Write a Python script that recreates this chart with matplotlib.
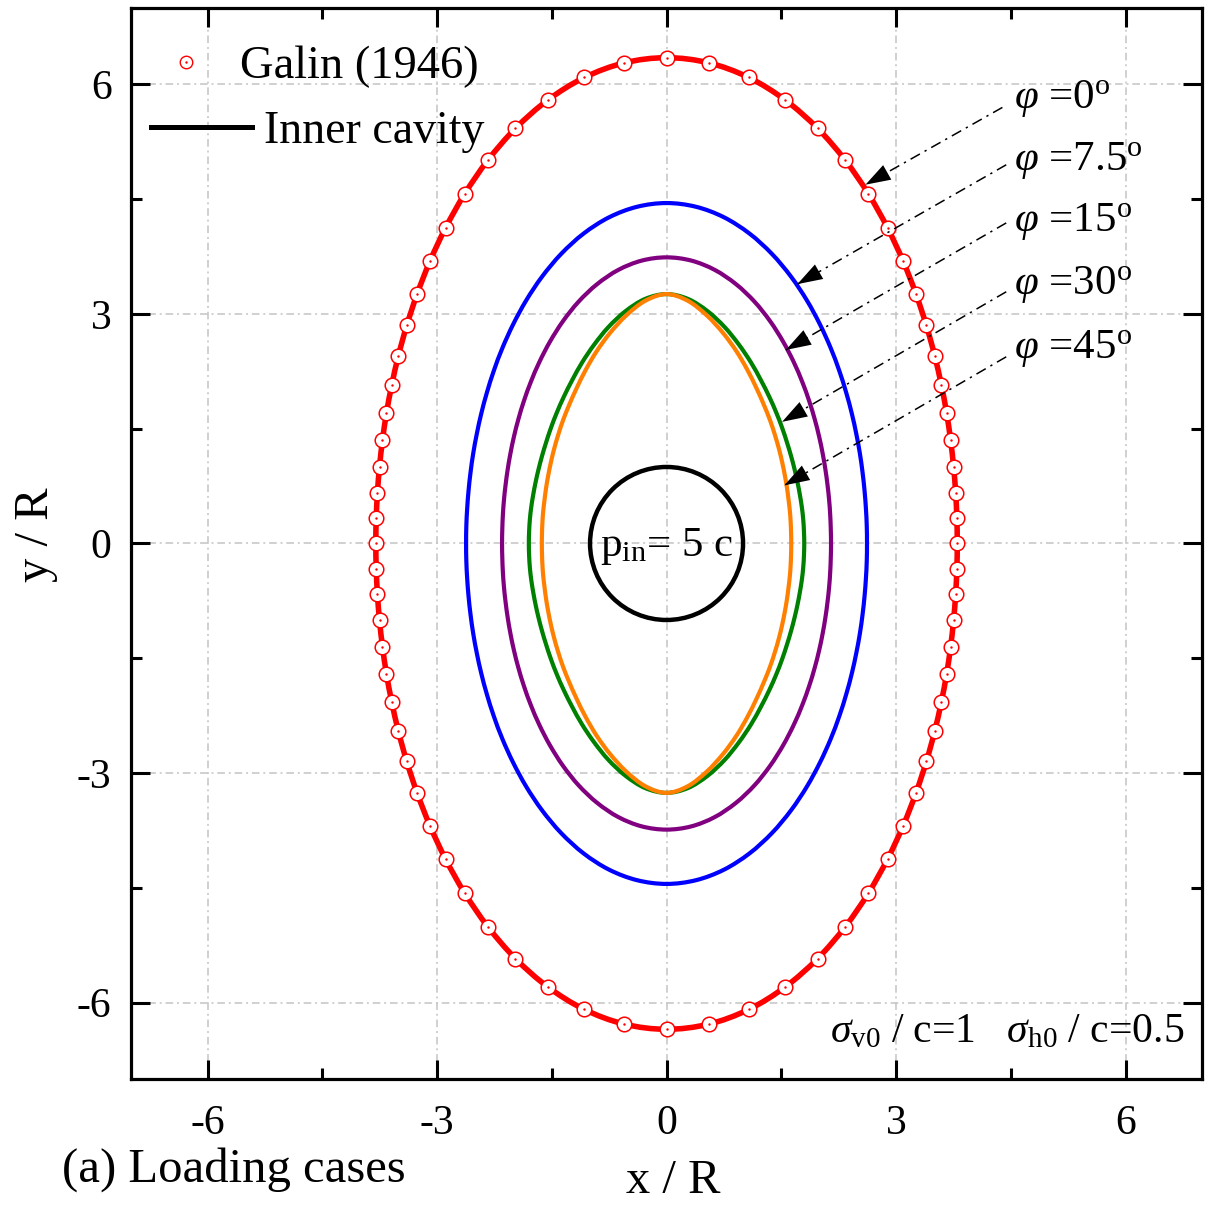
import numpy as np
import matplotlib
matplotlib.use('Agg')
import matplotlib.pyplot as plt
from matplotlib.ticker import MultipleLocator
from matplotlib.patches import Circle, PathPatch
from matplotlib.path import Path
from matplotlib.lines import Line2D
from matplotlib.legend_handler import HandlerTuple

plt.rcParams['font.family'] = ['Liberation Serif', 'DejaVu Serif']
plt.rcParams['mathtext.fontset'] = 'custom'
plt.rcParams['mathtext.rm'] = 'Liberation Serif'
plt.rcParams['mathtext.it'] = 'Liberation Serif:italic'
plt.rcParams['mathtext.bf'] = 'Liberation Serif:bold'
plt.rcParams['axes.unicode_minus'] = False

# polar angle (deg, from +x axis) of the read-off points, first quadrant
theta_q = np.arange(0, 91, 5)

# plastic zone boundary radii r/R (curves are symmetric)
r_phi0 = [3.800, 3.809, 3.837, 3.884, 3.951, 4.039, 4.147, 4.279, 4.433, 4.611,
          4.813, 5.036, 5.277, 5.527, 5.774, 6.000, 6.185, 6.307, 6.350]
r_phi7 = [2.620, 2.627, 2.646, 2.679, 2.726, 2.788, 2.864, 2.957, 3.066, 3.193,
          3.337, 3.496, 3.669, 3.849, 4.028, 4.193, 4.329, 4.418, 4.450]
r_phi15 = [2.150, 2.155, 2.172, 2.200, 2.239, 2.291, 2.356, 2.435, 2.528, 2.636,
           2.759, 2.897, 3.047, 3.205, 3.363, 3.509, 3.631, 3.712, 3.740]
r_phi30 = [1.800, 1.803, 1.814, 1.831, 1.855, 1.889, 1.933, 1.988, 2.055, 2.137,
           2.232, 2.341, 2.466, 2.611, 2.766, 2.930, 3.084, 3.209, 3.260]
r_phi45 = [1.630, 1.634, 1.647, 1.668, 1.696, 1.736, 1.785, 1.846, 1.919, 2.004,
           2.104, 2.216, 2.348, 2.502, 2.673, 2.850, 3.028, 3.185, 3.260]
r_cavity = 1.0

curve_r = [r_phi0, r_phi7, r_phi15, r_phi30, r_phi45]
curve_colors = ['#ff0000', '#0000ff', '#800080', '#008000', '#ff8000']
curve_lw = [4.0, 3.0, 3.0, 3.0, 3.0]
phi_labels = ['0', '7.5', '15', '30', '45']
# arrow tail (near label) and head (on curve), x/R, y/R
arrow_from = [(4.39, 5.70), (4.44, 4.95), (4.44, 4.19), (4.44, 3.29), (4.44, 2.44)]
arrow_to = [(2.60, 4.69), (1.71, 3.39), (1.56, 2.53), (1.51, 1.59), (1.54, 0.76)]
label_y = [5.82, 5.00, 4.21, 3.38, 2.55]


def full_loop(r_q):
    r_q = np.asarray(r_q)
    half = np.concatenate([r_q, r_q[-2::-1]])      # 0..180 deg
    r_all = np.concatenate([half, half[1:-1]])     # 0..355 deg
    th = np.deg2rad(np.arange(0, 360, 5))
    return r_all * np.cos(th), r_all * np.sin(th)


def smooth_closed_path(x, y):
    # closed curve through the points, drawn as cubic Bezier segments
    p = np.column_stack([x, y])
    n = len(p)
    verts = [p[0]]
    codes = [Path.MOVETO]
    for i in range(n):
        p0, p1, p2, p3 = p[i - 1], p[i], p[(i + 1) % n], p[(i + 2) % n]
        verts += [p1 + (p2 - p0) / 6, p2 - (p3 - p1) / 6, p2]
        codes += [Path.CURVE4] * 3
    return Path(verts, codes)


fig = plt.figure(figsize=(12.13, 12.06), dpi=100)
ax = fig.add_axes([0.108, 0.1053, 0.883, 0.8881])

grid_ls = (0, (5, 2.5, 1.3, 2.5))
ax.grid(True, which='major', color='#c4c4c4', lw=1.1, linestyle=grid_ls)
ax.set_axisbelow(True)

for r, c, lw in zip(curve_r, curve_colors, curve_lw):
    x, y = full_loop(r)
    ax.add_patch(PathPatch(smooth_closed_path(x, y), fill=False, ec=c, lw=lw, zorder=3))

# Galin (1946) analytical points
gx, gy = full_loop(r_phi0)
ax.plot(gx, gy, 'o', ms=10.5, mfc='white', mec='#ff0000', mew=1.1, zorder=4)
ax.plot(gx, gy, '.', ms=1.5, color='#ff0000', zorder=5)

ax.add_patch(Circle((0, 0), r_cavity, fill=False, ec='k', lw=3.2, zorder=3))
ax.text(0, -0.04, r'p$_\mathrm{in}$= 5 c', fontsize=31, ha='center', va='center', zorder=6)

for lab, p0, p1, ly in zip(phi_labels, arrow_from, arrow_to, label_y):
    ax.plot([p0[0], p1[0]], [p0[1], p1[1]], color='k', lw=1.1,
            linestyle=(0, (7, 3.5, 1.5, 3.5)), zorder=6)
    ax.annotate('', xy=p1, xytext=p0,
                arrowprops=dict(arrowstyle='-|>,head_length=0.9,head_width=0.3',
                                fc='k', ec='none', lw=0, mutation_scale=20,
                                shrinkA=0, shrinkB=0), zorder=6)
    ax.text(4.54, ly, r'$\varphi$ =' + lab + r'$^\mathrm{o}$', fontsize=31,
            ha='left', va='center')

ax.text(6.77, -6.39, r'$\sigma_\mathrm{v0}$ / c=1   $\sigma_\mathrm{h0}$ / c=0.5',
        fontsize=30, ha='right', va='center')

ax.set_xlim(-7, 7)
ax.set_ylim(-7, 7)
ax.xaxis.set_major_locator(MultipleLocator(3))
ax.yaxis.set_major_locator(MultipleLocator(3))
ax.xaxis.set_minor_locator(MultipleLocator(1.5))
ax.yaxis.set_minor_locator(MultipleLocator(1.5))
ax.tick_params(which='both', direction='in', top=True, right=True, width=2.2)
ax.tick_params(which='major', length=14, labelsize=30)
ax.tick_params(which='minor', length=8)
ax.tick_params(axis='x', which='major', pad=18)
ax.tick_params(axis='y', which='major', pad=14)
for s in ax.spines.values():
    s.set_linewidth(2.3)

ax.set_xlabel('x / R', fontsize=35)
ax.xaxis.set_label_coords(0.506, -0.075)
ax.set_ylabel('y / R', fontsize=35)
ax.yaxis.set_label_coords(-0.068, 0.508)

fig.text(0.051, 0.03, '(a) Loading cases', fontsize=35, ha='left', va='center')

h_galin = (Line2D([], [], ls='none', marker='o', ms=9, mfc='white', mec='#ff0000', mew=1.0),
           Line2D([], [], ls='none', marker='.', ms=1.5, color='#ff0000'))
leg1 = ax.legend([h_galin], ['Galin (1946)'],
                 handler_map={tuple: HandlerTuple(ndivide=1)},
                 loc='upper left', bbox_to_anchor=(0.0187, 0.965), frameon=False,
                 fontsize=33.5, handlelength=1.5, handletextpad=0.42,
                 borderpad=0, borderaxespad=0)
ax.add_artist(leg1)
h_cav = Line2D([], [], color='k', lw=3.6)
ax.legend([h_cav], ['Inner cavity'], loc='upper left', bbox_to_anchor=(0.0187, 0.904),
          frameon=False, fontsize=33, handlelength=2.2, handletextpad=0.26,
          borderpad=0, borderaxespad=0)

fig.savefig('out.png', dpi=100)
